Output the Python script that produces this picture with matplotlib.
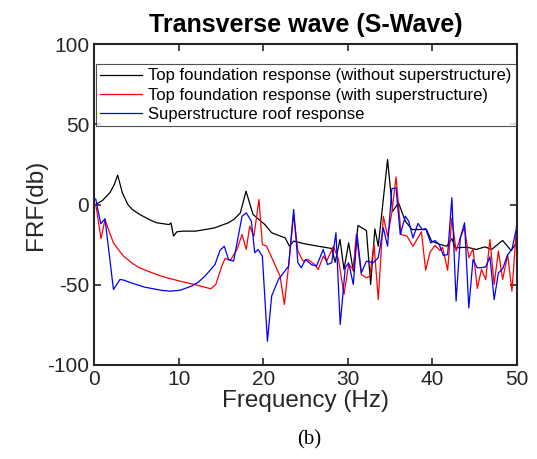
import matplotlib
matplotlib.use("Agg")
import matplotlib.pyplot as plt

# ---- data ----
freq_black = [0.2, 1.0, 1.9, 2.4, 2.8, 3.35, 4.0, 4.5, 5.4, 6.5, 7.4, 8.87, 9.1, 9.4, 9.8, 10.5, 12.0,
              13.5, 14.3, 15.3, 15.9, 16.6, 17.3, 17.97, 18.8, 20.2, 21.0, 22.6, 23.1, 23.6, 24.9, 26.5,
              28.1, 28.5, 29.08, 29.55, 30.1, 30.65, 31.2, 32.2, 32.7, 33.2, 33.6, 34.7, 35.3, 36.0, 36.8,
              37.6, 38.5, 39.3, 39.9, 40.9, 41.7, 42.3, 42.7, 44.1, 45.2, 46.2, 47.0, 48.3, 49.3, 50.0]
frf_black = [0.0, 2.5, 7.5, 12.5, 18.3, 7.3, 0.0, -3.0, -6.2, -9.3, -11.4, -12.5, -11.5, -19.7, -17.0, -16.6, -16.6,
             -15.3, -14.5, -12.5, -11.4, -9.0, -5.2, 8.3, -6.2, -12.5, -17.6, -20.8, -26.0, -22.8, -24.5, -26.0,
             -27.4, -36.0, -21.8, -40.5, -23.9, -41.5, -13.1, -16.2, -49.8, -15.2, -26.0, 28.0, -4.2, 1.0, -10.4,
             -15.6, -15.6, -15.6, -22.8, -24.9, -26.0, -21.2, -27.0, -26.6, -28.0, -26.4, -28.0, -22.4, -28.7, -23.5]

freq_red = [0.2, 0.3, 0.83, 1.3, 1.8, 2.3, 3.0, 3.5, 4.5, 5.4, 6.5, 7.4, 8.5, 10.2, 12.0, 13.8, 14.4, 15.1,
            15.5, 16.1, 16.9, 17.5, 18.0, 18.4, 18.9, 19.5, 19.9, 20.4, 22.0, 22.5, 23.0, 23.6, 24.1, 24.7,
            25.3, 26.1, 26.5, 27.1, 27.5, 28.3, 28.9, 29.55, 30.1, 30.65, 31.0, 31.6, 32.2, 32.6, 33.1, 33.6,
            34.2, 34.7, 35.2, 35.7, 36.3, 37.0, 37.7, 38.7, 39.2, 39.7, 40.3, 40.9, 41.2, 41.8, 42.3, 42.8,
            43.3, 43.8, 44.3, 44.8, 45.3, 45.8, 46.3, 46.8, 47.3, 47.8, 48.3, 48.9, 49.4, 49.9, 50.0]
frf_red = [0.0, -3.1, -21.2, -9.3, -17.0, -23.9, -29.0, -32.2, -36.5, -39.5, -41.8, -43.6, -45.5, -47.8, -50.0, -52.5, -49.8, -38.4,
           -33.6, -34.9, -28.0, -18.7, -28.0, -13.5, -19.7, 3.1, -24.9, -26.0, -44.7, -62.3, -38.4, -6.2, -29.0, -35.3,
           -34.3, -37.4, -40.5, -32.2, -35.3, -26.0, -34.3, -56.0, -37.4, -40.5, -18.7, -43.6, -45.7, -44.7, -24.9, -59.2,
           -7.3, -19.7, -5.2, 17.2, -18.7, -19.7, -26.0, -17.0, -41.0, -30.0, -25.5, -28.7, -26.6, -41.0, -8.3, -29.0,
           -20.8, -14.1, -33.2, -27.6, -52.3, -40.5, -46.7, -21.8, -49.8, -29.0, -46.7, -31.2, -54.0, -17.6, -19.0]

freq_blue = [0.2, 0.8, 1.3, 2.3, 3.07, 3.5, 4.5, 6.0, 8.0, 9.0, 10.2, 11.5, 12.3, 13.1, 13.8, 14.3, 14.9, 15.4,
             15.9, 16.5, 17.5, 18.0, 18.6, 19.0, 19.4, 19.9, 20.5, 21.0, 21.8, 22.4, 23.0, 23.6, 24.1, 24.5,
             25.0, 25.7, 26.3, 27.1, 27.6, 28.1, 28.6, 29.1, 29.7, 30.1, 30.65, 31.1, 31.6, 32.2, 33.0, 33.6,
             34.2, 34.7, 35.2, 35.7, 36.2, 36.8, 37.2, 37.7, 38.3, 38.8, 39.2, 39.8, 40.3, 40.8, 41.3, 41.8,
             42.3, 42.8, 43.3, 43.8, 44.3, 44.8, 45.3, 45.8, 46.3, 46.8, 47.3, 47.8, 48.3, 48.9, 49.4, 49.9, 50.0]
frf_blue = [3.5, -12.0, -8.9, -53.0, -46.7, -47.1, -49.0, -51.5, -53.5, -54.0, -53.4, -50.9, -48.5, -44.7, -40.5, -37.4, -28.5, -26.0,
            -34.3, -35.3, -7.3, -5.2, -10.4, -30.1, -28.0, -32.2, -85.2, -57.0, -46.7, -42.6, -38.4, -3.1, -36.3, -39.4,
            -34.3, -37.4, -38.4, -28.0, -37.4, -36.3, -17.6, -74.8, -39.4, -36.3, -49.8, -18.7, -42.6, -35.3, -36.3, -33.2,
            -14.5, -26.0, 9.8, 10.4, -18.7, -7.3, -10.4, -20.8, -11.8, -15.6, -15.0, -23.9, -22.4, -24.9, -31.8, -31.2,
            4.2, -60.2, -20.8, -11.4, -64.4, -34.3, -39.4, -39.4, -38.8, -32.6, -59.2, -42.6, -40.1, -31.2, -28.0, -15.6, -10.4]

labels = ["Top foundation response (without superstructure)",
          "Top foundation response (with superstructure)",
          "Superstructure roof response"]
title = "Transverse wave (S-Wave)"
xticks = [0, 10, 20, 30, 40, 50]
yticks = [-100, -50, 0, 50, 100]

plt.rcParams['font.family'] = ['Liberation Sans', 'DejaVu Sans']
plt.rcParams['axes.unicode_minus'] = False

fig = plt.figure(figsize=(5.37, 4.59), dpi=100)
ax = fig.add_axes([94/537, 1 - 365/459, (517-94)/537, (365-44)/459])

ax.plot(freq_black, frf_black, color='black', lw=0.9, label=labels[0])
ax.plot(freq_red, frf_red, color='red', lw=0.9, label=labels[1])
ax.plot(freq_blue, frf_blue, color='blue', lw=0.9, label=labels[2])

ax.set_xlim(0, 50)
ax.set_ylim(-100, 100)
ax.set_xticks(xticks)
ax.set_yticks(yticks)
ax.tick_params(direction='in', top=True, right=True, labelsize=15, length=5, width=1.2, colors='#262626')
for lab in ax.get_xticklabels() + ax.get_yticklabels():
    lab.set_color('#262626')
for s in ax.spines.values():
    s.set_linewidth(1.5)
    s.set_color('#262626')

ax.set_xlabel("Frequency (Hz)", fontsize=17.5, color='#262626', labelpad=1)
ax.set_ylabel("FRF(db)", fontsize=17.5, color='#262626', labelpad=0)
ax.set_title(title, fontsize=18, fontweight='bold', pad=9)

leg = ax.legend(loc='upper left', bbox_to_anchor=(0.004, 0.937), fontsize=12,
                frameon=True, fancybox=False, borderpad=0.25, labelspacing=0.25,
                handlelength=2.5, handletextpad=0.4, borderaxespad=0)
leg.get_frame().set_edgecolor('#262626')
leg.get_frame().set_linewidth(0.8)

fig.text((226+393)/2/537, 1 - 440/459, "(b)", ha='center', va='center', fontsize=15,
         family=['Liberation Serif', 'DejaVu Serif'])

fig.savefig("out.png", dpi=100)
